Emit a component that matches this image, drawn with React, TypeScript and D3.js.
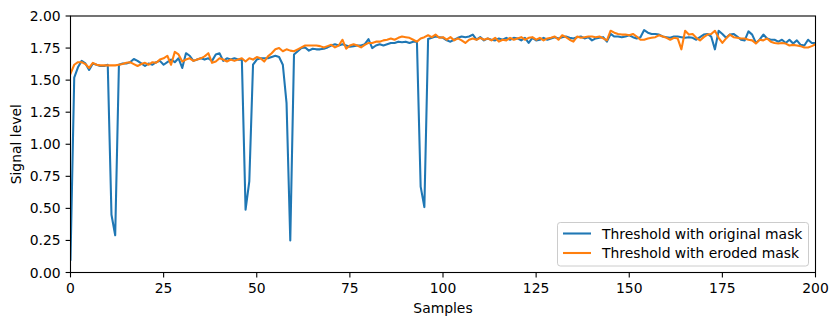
import React from "react";
import * as d3 from "d3";

const originalMask: number[] = [
  0.10, 1.52, 1.60, 1.65, 1.63, 1.58, 1.63, 1.62, 1.61, 1.61,
  1.62, 0.45, 0.29, 1.62, 1.63, 1.63, 1.64, 1.665, 1.65, 1.63,
  1.61, 1.63, 1.62, 1.64, 1.65, 1.62, 1.64, 1.66, 1.64, 1.67,
  1.595, 1.71, 1.69, 1.65, 1.66, 1.67, 1.66, 1.67, 1.65, 1.70,
  1.71, 1.65, 1.67, 1.66, 1.67, 1.66, 1.66, 0.49, 0.71, 1.62,
  1.66, 1.67, 1.67, 1.67, 1.68, 1.69, 1.68, 1.62, 1.32, 0.25,
  1.70, 1.725, 1.75, 1.755, 1.73, 1.745, 1.74, 1.74, 1.745, 1.755,
  1.77, 1.78, 1.77, 1.78, 1.77, 1.76, 1.765, 1.77, 1.77, 1.78,
  1.82, 1.75, 1.77, 1.78, 1.77, 1.78, 1.79, 1.79, 1.80, 1.795,
  1.80, 1.79, 1.80, 1.80, 0.67, 0.51, 1.82, 1.83, 1.84, 1.835,
  1.83, 1.81, 1.80, 1.815, 1.83, 1.84, 1.835, 1.84, 1.855, 1.815,
  1.835, 1.81, 1.825, 1.815, 1.81, 1.825, 1.815, 1.83, 1.815, 1.83,
  1.825, 1.81, 1.83, 1.79, 1.83, 1.81, 1.815, 1.83, 1.815, 1.825,
  1.835, 1.825, 1.835, 1.84, 1.83, 1.825, 1.835, 1.84, 1.825, 1.835,
  1.81, 1.825, 1.83, 1.835, 1.80, 1.86, 1.84, 1.84, 1.835, 1.84,
  1.85, 1.835, 1.825, 1.835, 1.89, 1.87, 1.86, 1.86, 1.855, 1.84,
  1.835, 1.83, 1.84, 1.84, 1.835, 1.83, 1.835, 1.83, 1.815, 1.835,
  1.855, 1.86, 1.84, 1.74, 1.885, 1.86, 1.83, 1.855, 1.86, 1.84,
  1.815, 1.81, 1.88, 1.855, 1.79, 1.815, 1.855, 1.825, 1.815, 1.815,
  1.80, 1.815, 1.79, 1.815, 1.785, 1.81, 1.775, 1.77, 1.815, 1.79,
  1.79,
];

const erodedMask: number[] = [
  1.55, 1.62, 1.64, 1.64, 1.625, 1.595, 1.635, 1.62, 1.615, 1.615,
  1.615, 1.615, 1.615, 1.62, 1.625, 1.635, 1.64, 1.625, 1.61, 1.625,
  1.635, 1.62, 1.64, 1.635, 1.66, 1.67, 1.69, 1.62, 1.72, 1.70,
  1.645, 1.66, 1.67, 1.65, 1.66, 1.67, 1.685, 1.71, 1.635, 1.645,
  1.67, 1.66, 1.645, 1.66, 1.65, 1.66, 1.67, 1.645, 1.67, 1.66,
  1.68, 1.67, 1.645, 1.685, 1.71, 1.74, 1.75, 1.725, 1.74, 1.73,
  1.725, 1.74, 1.755, 1.77, 1.77, 1.77, 1.77, 1.765, 1.755, 1.765,
  1.775, 1.755, 1.77, 1.815, 1.745, 1.77, 1.78, 1.77, 1.755, 1.775,
  1.79, 1.79, 1.80, 1.80, 1.81, 1.815, 1.825, 1.815, 1.83, 1.84,
  1.835, 1.83, 1.815, 1.80, 1.825, 1.835, 1.85, 1.835, 1.855, 1.83,
  1.835, 1.815, 1.835, 1.81, 1.825, 1.81, 1.79, 1.815, 1.825, 1.815,
  1.83, 1.815, 1.825, 1.81, 1.83, 1.80, 1.815, 1.81, 1.83, 1.815,
  1.825, 1.835, 1.815, 1.83, 1.835, 1.815, 1.83, 1.81, 1.825, 1.83,
  1.84, 1.815, 1.85, 1.835, 1.815, 1.80, 1.84, 1.83, 1.835, 1.84,
  1.84, 1.835, 1.84, 1.825, 1.81, 1.885, 1.87, 1.86, 1.855, 1.855,
  1.85, 1.86, 1.84, 1.815, 1.815, 1.825, 1.83, 1.835, 1.85, 1.84,
  1.83, 1.815, 1.83, 1.825, 1.74, 1.885, 1.855, 1.86, 1.83, 1.81,
  1.835, 1.855, 1.86, 1.885, 1.83, 1.79, 1.825, 1.855, 1.835, 1.83,
  1.825, 1.825, 1.815, 1.81, 1.785, 1.815, 1.81, 1.825, 1.80, 1.79,
  1.785, 1.79, 1.785, 1.77, 1.775, 1.77, 1.765, 1.755, 1.755, 1.765,
  1.78,
];

const xTicks: number[] = [0, 25, 50, 75, 100, 125, 150, 175, 200];
const yTicks: number[] = [0, 0.25, 0.5, 0.75, 1.0, 1.25, 1.5, 1.75, 2.0];
const seriesNames: string[] = ["Threshold with original mask", "Threshold with eroded mask"];
const seriesColors: string[] = ["#1f77b4", "#ff7f0e"];

const W = 837;
const H = 326;
const left = 70.5;
const right = 815.5;
const top = 16;
const bottom = 272.5;
const FONT = "DejaVu Sans, sans-serif";
const FS = 13.9;
const TICK = 4.9;

export default function App() {
  const x = d3.scaleLinear().domain([0, 200]).range([left, right]);
  const y = d3.scaleLinear().domain([0, 2]).range([bottom, top]);
  const line = d3
    .line<number>()
    .x((_, i) => x(i))
    .y((d) => y(d));
  const series = [originalMask, erodedMask];

  return (
    <svg
      width={W}
      height={H}
      style={{ position: "absolute", left: 0, top: 0, background: "#fff" }}
      fontFamily={FONT}
    >
      <rect x={0} y={0} width={W} height={H} fill="#fff" />
      <defs>
        <clipPath id="plotclip">
          <rect x={left} y={top} width={right - left} height={bottom - top} />
        </clipPath>
      </defs>
      <g clipPath="url(#plotclip)">
        {series.map((s, k) => (
          <path
            key={k}
            d={line(s) || ""}
            fill="none"
            stroke={seriesColors[k]}
            strokeWidth={2.08}
            strokeLinejoin="round"
            strokeLinecap="square"
          />
        ))}
      </g>
      {/* spines */}
      <rect
        x={left}
        y={top}
        width={right - left}
        height={bottom - top}
        fill="none"
        stroke="#000"
        strokeWidth={1.1}
      />
      {/* x ticks */}
      {xTicks.map((t) => (
        <g key={"x" + t}>
          <line x1={x(t)} x2={x(t)} y1={bottom} y2={bottom + TICK} stroke="#000" strokeWidth={1.1} />
          <text x={x(t)} y={293.3} textAnchor="middle" fontSize={FS} fill="#000">
            {t}
          </text>
        </g>
      ))}
      {/* y ticks */}
      {yTicks.map((t) => (
        <g key={"y" + t}>
          <line x1={left - TICK} x2={left} y1={y(t)} y2={y(t)} stroke="#000" strokeWidth={1.1} />
          <text
            x={left - TICK - 4.9}
            y={y(t)}
            dy="0.36em"
            textAnchor="end"
            fontSize={FS}
            fill="#000"
          >
            {t.toFixed(2)}
          </text>
        </g>
      ))}
      <text x={(left + right) / 2} y={312.5} textAnchor="middle" fontSize={FS} fill="#000">
        Samples
      </text>
      <text
        transform={`translate(20.5, ${(top + bottom) / 2}) rotate(-90)`}
        textAnchor="middle"
        fontSize={FS}
        fill="#000"
      >
        Signal level
      </text>
      {/* legend */}
      <g>
        <rect
          x={557.5}
          y={222.5}
          width={251}
          height={43.5}
          rx={2.8}
          fill="#fff"
          fillOpacity={0.8}
          stroke="#cccccc"
          strokeWidth={1}
        />
        {seriesNames.map((name, k) => {
          const cy = 233.5 + k * 19.5;
          return (
            <g key={name}>
              <line x1={563} x2={591} y1={cy} y2={cy} stroke={seriesColors[k]} strokeWidth={2.08} />
              <text x={602} y={cy} dy="0.36em" fontSize={FS} fill="#000">
                {name}
              </text>
            </g>
          );
        })}
      </g>
    </svg>
  );
}
